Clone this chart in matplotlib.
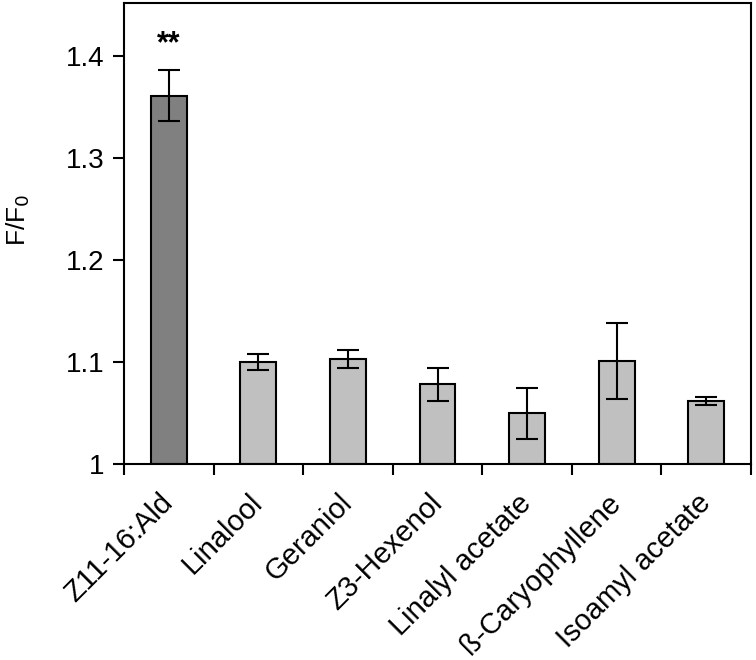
import matplotlib
matplotlib.use("Agg")
import matplotlib.pyplot as plt
import numpy as np

plt.rcParams['font.family'] = ['Liberation Sans', 'DejaVu Sans']

categories = ["Z11-16:Ald", "Linalool", "Geraniol", "Z3-Hexenol",
              "Linalyl acetate", "ß-Caryophyllene", "Isoamyl acetate"]
values = [1.361, 1.100, 1.103, 1.078, 1.050, 1.101, 1.062]
errors = [0.025, 0.008, 0.009, 0.016, 0.025, 0.037, 0.004]
colors = ["#808080"] + ["#c0c0c0"] * 6
yticks = [1.0, 1.1, 1.2, 1.3, 1.4]
yticklabels = ["1", "1.1", "1.2", "1.3", "1.4"]

fig = plt.figure(figsize=(7.56, 6.6), dpi=100)
ax = fig.add_axes([124/756, 1 - 464/660, (751-124)/756, (464-3)/660])

x = np.arange(len(categories))
ax.bar(x, [v - 1.0 for v in values], bottom=1.0, width=0.4, color=colors,
       edgecolor="black", linewidth=1.5, zorder=2)
ax.errorbar(x, values, yerr=errors, fmt="none", ecolor="black",
            elinewidth=1.5, capsize=8, capthick=1.5, zorder=3)
ax.text(x[0], values[0] + errors[0] + 0.026, "**", ha="center", va="center",
        fontsize=22, fontweight="bold")

ax.set_xlim(-0.5, len(categories) - 0.5)
ax.set_ylim(1.0, 1.452)
ax.set_yticks(yticks)
ax.set_yticklabels(yticklabels, fontsize=20)
ax.set_xticks(np.arange(len(categories) + 1) - 0.5)
ax.set_xticklabels([])
ax.set_xticks(x, minor=True)
ax.set_xticklabels(categories, minor=True, rotation=45, ha="right",
                   va="center", rotation_mode="anchor", fontsize=21)
ax.tick_params(axis="x", which="minor", length=0, pad=25)
ax.tick_params(axis="x", which="major", length=8, width=1.5, direction="out")
ax.tick_params(axis="y", length=8, width=1.5, direction="out", pad=6)
for s in ax.spines.values():
    s.set_linewidth(1.5)
ax.set_ylabel("F/F$_0$", fontsize=19, va="center")
ax.yaxis.set_label_coords(-0.168, 0.53)

fig.savefig("out.png", dpi=100)
